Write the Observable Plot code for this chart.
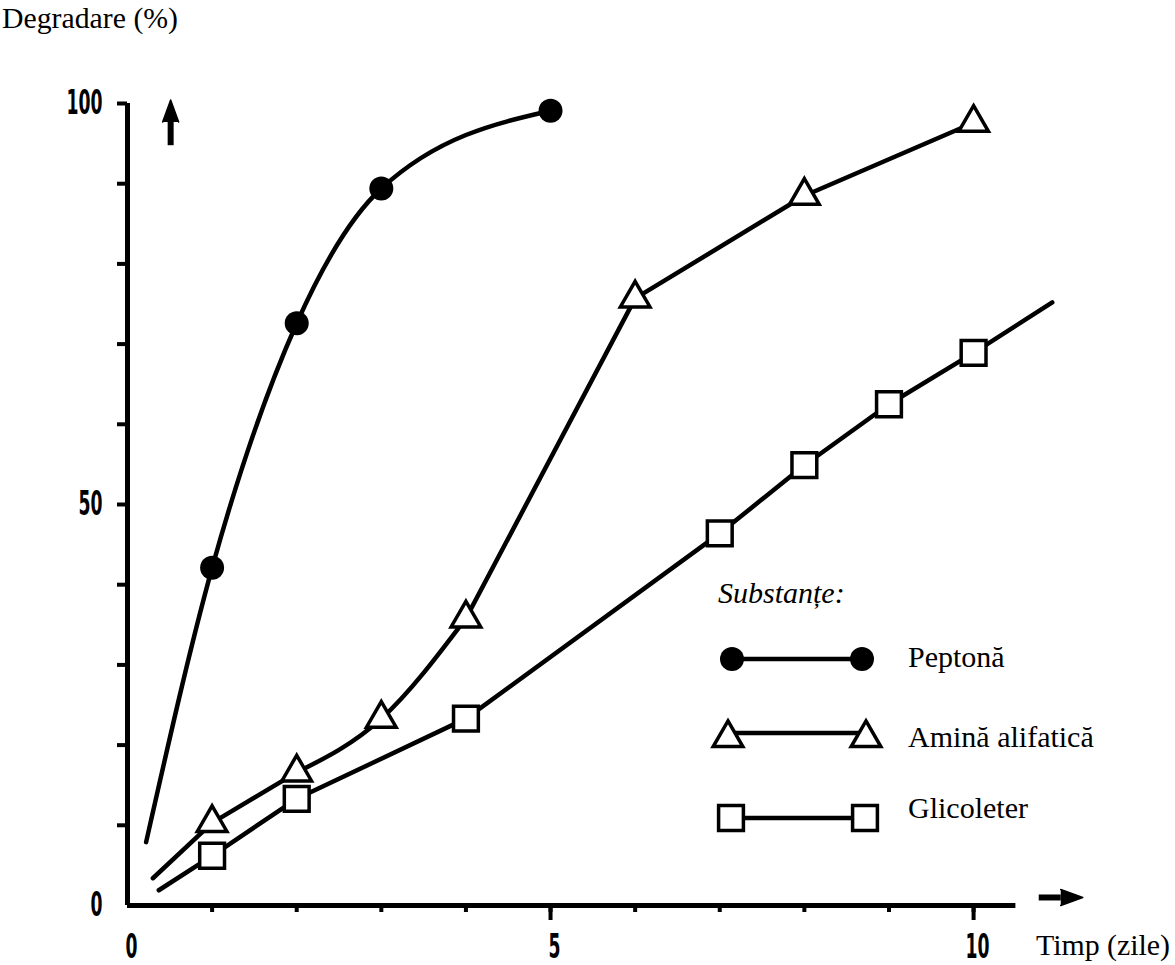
<!DOCTYPE html>
<html><head><meta charset="utf-8">
<script src="https://cdn.jsdelivr.net/npm/d3@7"></script>
<script src="https://cdn.jsdelivr.net/npm/@observablehq/plot@0.6"></script>
<style>
body{margin:0;background:#fff;}
#wrap{position:relative;width:1175px;height:965px;overflow:hidden;background:#fff;}
#wrap svg{position:absolute;left:0;top:0;}
</style></head><body><div id="wrap"></div>
<script>
// ---- texts ----
const yLabel = "Degradare (%)";
const xLabel = "Timp (zile)";
const legendTitle = "Substanțe:";
const seriesNames = ["Peptonă", "Amină alifatică", "Glicoleter"];

// ---- data ----
const peptonaDays = [1, 2, 3, 5];
const peptonaValues = [42.1, 72.6, 89.4, 99.1];
const peptonaLineStart = [0.22, 7.9];

const aminaDays = [1, 2, 3, 4, 6, 8, 10];
const aminaValues = [10.3, 16.6, 23.3, 35.8, 75.7, 88.5, 97.6];
const aminaLineStart = [0.3, 3.4];
const aminaCurveFrom = 2;
const aminaCurveUntil = 4;

const glicolDays = [1, 2, 4, 7, 8, 9, 10];
const glicolValues = [6.2, 13.3, 23.3, 46.4, 54.9, 62.5, 68.9];
const glicolLineStart = [0.37, 1.9];
const glicolLineEnd = [10.93, 75.2];

// ---- axes ----
const yTicks = d3.range(10, 101, 10);
const yTickLabels = [0, 50, 100];
const xTicks = d3.range(1, 11);
const xMajorTicks = [5, 10];
const xTickLabels = [0, 5, 10];
const xAxisEnd = 10.5;
const xArrow = {x1: 10.77, x2: 11.03, y: 1};
const yArrow = {x: 0.51, y1: 94.8, y2: 97.7};

// ---- tables ----
const pts = (xs, ys) => xs.map((x, i) => ({x, y: ys[i]}));
const pepPts = pts(peptonaDays, peptonaValues);
const pepLine = [{x: peptonaLineStart[0], y: peptonaLineStart[1]}, ...pepPts];
const amiPts = pts(aminaDays, aminaValues);
const amiStart = [{x: aminaLineStart[0], y: aminaLineStart[1]}, ...amiPts.filter(d => d.x <= aminaCurveFrom)];
const amiCurve = amiPts.filter(d => d.x >= aminaCurveFrom && d.x <= aminaCurveUntil);
const amiLinear = amiPts.filter(d => d.x >= aminaCurveUntil);
const gliPts = pts(glicolDays, glicolValues);
const gliLine = [{x: glicolLineStart[0], y: glicolLineStart[1]}, ...gliPts, {x: glicolLineEnd[0], y: glicolLineEnd[1]}];

const lblFont = {fontSize: 33, fontWeight: "bold", fontFamily: "DejaVu Sans Condensed, DejaVu Sans"};
const LW = 4.5;

const chart = Plot.plot({
  width: 1175, height: 965,
  marginLeft: 127, marginRight: 75, marginTop: 103, marginBottom: 60,
  x: {domain: [0, 11.5], label: null},
  y: {domain: [0, 100], label: null},
  style: {background: "transparent", color: "#000"},
  marks: [
    Plot.axisY({ticks: yTicks, tickSize: 10, strokeWidth: 4, tickFormat: () => ""}),
    Plot.axisY({ticks: yTickLabels, tickSize: 0, tickPadding: 25, ...lblFont}),
    Plot.axisX({ticks: xTicks, tickSize: 7, strokeWidth: 4, tickFormat: () => ""}),
    Plot.axisX({ticks: xMajorTicks, tickSize: 15, strokeWidth: 4, tickFormat: () => ""}),
    Plot.axisX({ticks: xTickLabels, tickSize: 0, tickPadding: 29, dx: 4, ...lblFont}),
    Plot.ruleX([0], {y1: 0, y2: 100, strokeWidth: 5}),
    Plot.ruleY([0], {x1: 0, x2: xAxisEnd, strokeWidth: 5}),
    // axis arrows: shaft + filled head
    Plot.link([xArrow], {x1: "x1", x2: "x2", y1: "y", y2: "y", strokeWidth: 6}),
    Plot.vector([xArrow], {x: "x2", y: "y", rotate: 90, length: 22, r: 8, shape: "spike", anchor: "start", fill: "#000", stroke: "#000", strokeWidth: 1.5}),
    Plot.link([yArrow], {x1: "x", x2: "x", y1: "y1", y2: "y2", strokeWidth: 6}),
    Plot.vector([yArrow], {x: "x", y: "y2", rotate: 0, length: 22, r: 8, shape: "spike", anchor: "start", fill: "#000", stroke: "#000", strokeWidth: 1.5}),
    // series
    Plot.line(pepLine, {x: "x", y: "y", curve: "monotone-x", strokeWidth: LW}),
    Plot.line(amiStart, {x: "x", y: "y", strokeWidth: LW}),
    Plot.line(amiCurve, {x: "x", y: "y", curve: "monotone-x", strokeWidth: LW}),
    Plot.line(amiLinear, {x: "x", y: "y", strokeWidth: LW}),
    Plot.line(gliLine, {x: "x", y: "y", strokeWidth: LW}),
    Plot.dot(pepPts, {x: "x", y: "y", r: 12, fill: "#000", stroke: "none"}),
    Plot.dot(amiPts, {x: "x", y: "y", r: 11, symbol: "triangle", fill: "#fff", stroke: "#000", strokeWidth: 3.5}),
    Plot.dot(gliPts, {x: "x", y: "y", r: 14, symbol: "square", fill: "#fff", stroke: "#000", strokeWidth: 3.5})
  ]
});

// condense tick label digits
d3.select(chart).selectAll("text").each(function () {
  const t = this.textContent.trim();
  if (t.length) {
    this.setAttribute("textLength", t.length * 12);
    this.setAttribute("lengthAdjust", "spacingAndGlyphs");
  }
});

const wrap = document.getElementById("wrap");
wrap.appendChild(chart);

// ---- overlay: axis titles and legend ----
const ov = d3.select(wrap).append("svg").attr("width", 1175).attr("height", 965)
  .style("font-family", "'Liberation Serif', serif").style("font-size", "30px");
ov.append("text").attr("x", 2).attr("y", 28).style("font-size", "29px")
  .attr("textLength", 176).attr("lengthAdjust", "spacingAndGlyphs").text(yLabel);
ov.append("text").attr("x", 1036).attr("y", 955).style("font-size", "29px")
  .attr("textLength", 134).attr("lengthAdjust", "spacingAndGlyphs").text(xLabel);
ov.append("text").attr("x", 718).attr("y", 603).style("font-style", "italic").text(legendTitle);

const legendRows = [
  {name: seriesNames[0], y: 659, ty: 667, x1: 732, x2: 862, sym: d3.symbolCircle, size: Math.PI * 144, fill: "#000", sw: 0, sy: 659},
  {name: seriesNames[1], y: 733, ty: 747, x1: 728, x2: 866, sym: d3.symbolTriangle, size: Math.PI * 121, fill: "#fff", sw: 3.5, sy: 738},
  {name: seriesNames[2], y: 818, ty: 818, x1: 731, x2: 865, sym: d3.symbolSquare, size: Math.PI * 196, fill: "#fff", sw: 3.5, sy: 818}
];
for (const r of legendRows) {
  ov.append("line").attr("x1", r.x1).attr("x2", r.x2).attr("y1", r.y).attr("y2", r.y)
    .attr("stroke", "#000").attr("stroke-width", LW);
  for (const cx of [r.x1, r.x2]) {
    ov.append("path").attr("d", d3.symbol(r.sym, r.size)())
      .attr("transform", `translate(${cx},${r.sy})`)
      .attr("fill", r.fill).attr("stroke", "#000").attr("stroke-width", r.sw);
  }
  ov.append("text").attr("x", 908).attr("y", r.ty).text(r.name);
}
</script></body></html>
